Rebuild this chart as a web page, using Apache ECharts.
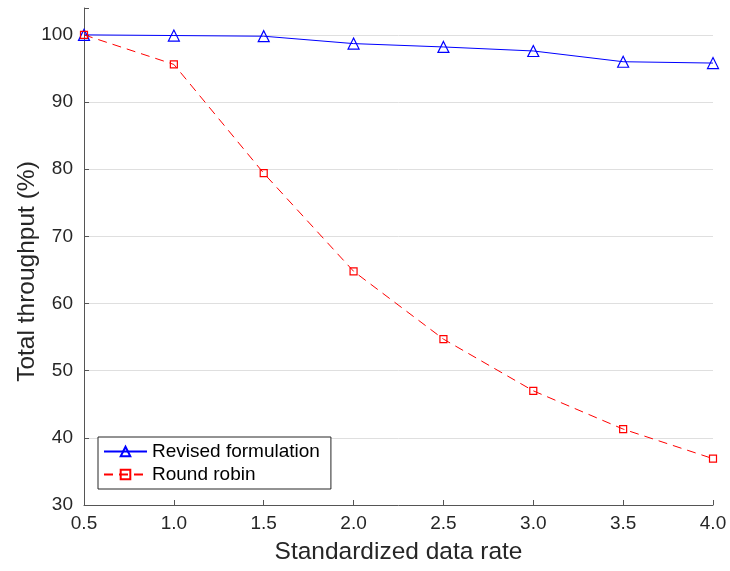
<!DOCTYPE html>
<html>
<head>
<meta charset="utf-8">
<script src="https://cdn.jsdelivr.net/npm/echarts@6/dist/echarts.min.js"></script>
<style>html,body{margin:0;padding:0;background:#fff}#c{width:730px;height:571px}</style>
</head>
<body>
<div id="c"></div>
<script>
const dataRates = [0.5, 1.0, 1.5, 2.0, 2.5, 3.0, 3.5, 4.0];
const revisedFormulation = [100, 99.9, 99.8, 98.7, 98.2, 97.6, 96.0, 95.8];
const roundRobin = [100, 95.6, 79.4, 64.8, 54.7, 47.0, 41.3, 36.9];
const yTicks = [30, 40, 50, 60, 70, 80, 90, 100];
const seriesNames = ['Revised formulation', 'Round robin'];

const pair = (xs, ys) => xs.map((x, i) => [x, ys[i]]);
const font = 'Liberation Sans, Arial, Helvetica, sans-serif';
const axisCol = '#555555';
const textCol = '#262626';

const chart = echarts.init(document.getElementById('c'), null, {renderer: 'canvas'});
chart.setOption({
  animation: false,
  backgroundColor: '#fff',
  grid: {left: 84, right: 17, top: 8, bottom: 66, containLabel: false, outerBoundsMode: 'none'},
  legend: {
    orient: 'vertical',
    left: 98, top: 437,
    padding: [5, 11, 5, 5],
    itemGap: 4,
    itemWidth: 43, itemHeight: 12,
    borderColor: textCol, borderWidth: 1,
    backgroundColor: '#fff',
    textStyle: {fontFamily: font, fontSize: 19, color: '#000'},
    data: seriesNames
  },
  xAxis: {
    type: 'value', min: 0.5, max: 4.0, interval: 0.5,
    name: 'Standardized data rate', nameLocation: 'middle', nameGap: 35,
    nameMoveOverlap: false,
    nameTextStyle: {fontFamily: font, fontSize: 24.5, color: textCol},
    axisLine: {lineStyle: {color: axisCol, width: 1}},
    axisTick: {inside: true, length: 5, lineStyle: {color: axisCol}},
    axisLabel: {fontFamily: font, fontSize: 19, color: textCol, margin: 9,
      formatter: v => v.toFixed(1)},
    splitLine: {show: false}
  },
  yAxis: {
    type: 'value', min: 30, max: 104, interval: 10,
    name: 'Total throughput (%)', nameLocation: 'middle', nameGap: 44, nameRotate: 90,
    nameMoveOverlap: false,
    nameTextStyle: {fontFamily: font, fontSize: 24.5, color: textCol, padding: [0, 30, 0, 0]},
    axisLine: {show: true, lineStyle: {color: axisCol, width: 1}},
    axisTick: {inside: true, length: 5, lineStyle: {color: axisCol}},
    axisLabel: {fontFamily: font, fontSize: 19, color: textCol, margin: 11,
      formatter: v => (yTicks.indexOf(v) >= 0 ? String(v) : '')},
    splitLine: {show: true, lineStyle: {color: ['#dfdfdf','#dfdfdf','#dfdfdf','#dfdfdf','#dfdfdf','#dfdfdf','#dfdfdf','#dfdfdf','rgba(0,0,0,0)'], width: 1}}
  },
  series: [
    {
      name: seriesNames[0], type: 'line', data: pair(dataRates, revisedFormulation),
      smooth: false,
      symbol: 'triangle', symbolSize: 11,
      lineStyle: {color: '#0000ff', width: 1},
      itemStyle: {color: 'rgba(255,255,255,0)', borderColor: '#0000ff', borderWidth: 1.2},
      z: 3
    },
    {
      name: seriesNames[1], type: 'line', data: pair(dataRates, roundRobin),
      smooth: false,
      symbol: 'rect', symbolSize: 7,
      lineStyle: {color: '#ff0000', width: 1, type: [9, 6]},
      itemStyle: {color: 'rgba(255,255,255,0)', borderColor: '#ff0000', borderWidth: 1.2},
      z: 4
    }
  ]
});
</script>
</body>
</html>
